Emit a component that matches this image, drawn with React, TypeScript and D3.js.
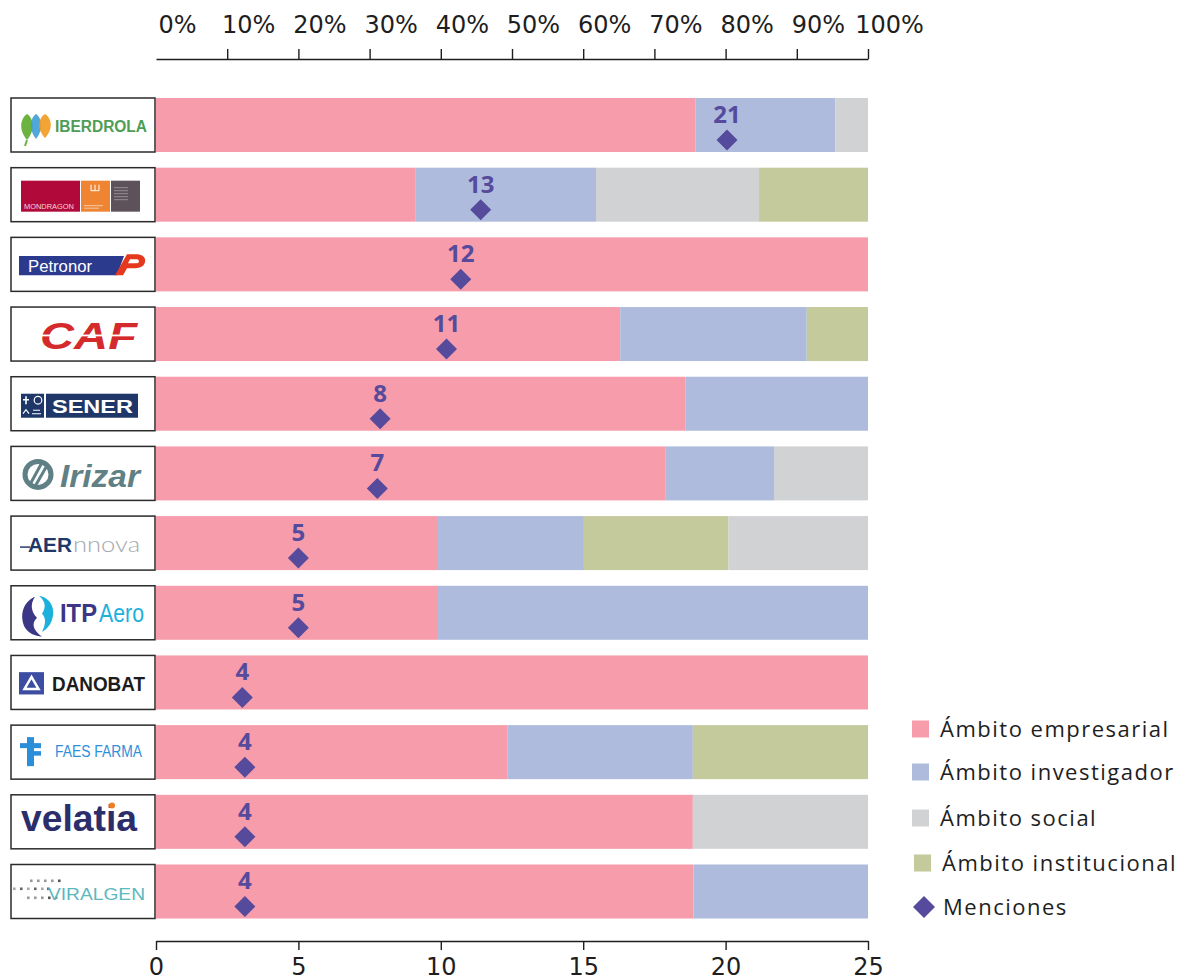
import React, { useEffect, useRef } from "react";
import * as d3 from "d3";

const categories = ["Iberdrola", "Mondragon", "Petronor", "CAF", "Sener", "Irizar", "Aernnova", "ITP Aero", "Danobat", "Faes Farma", "Velatia", "Viralgen"];
const empresarial = [75.8, 36.4, 100, 65.2, 74.4, 71.6, 39.6, 39.6, 100, 49.4, 75.4, 75.5];
const investigador = [19.6, 25.4, 0, 26.2, 25.6, 15.2, 20.5, 60.4, 0, 26.0, 0, 24.5];
const social = [4.6, 22.9, 0, 0, 0, 13.2, 19.6, 0, 0, 0, 24.6, 0];
const institucional = [0, 15.3, 0, 8.6, 0, 0, 20.3, 0, 0, 24.6, 0, 0];
const mentions = [21, 13, 12, 11, 8, 7, 5, 5, 4, 4, 4, 4];
const mentionsPlotted = [20.05, 11.4, 10.7, 10.2, 7.87, 7.77, 5.0, 5.0, 3.03, 3.12, 3.12, 3.12];
const percentTicks = [0, 10, 20, 30, 40, 50, 60, 70, 80, 90, 100];
const mentionTicks = [0, 5, 10, 15, 20, 25];
const seriesNames = ["Ámbito empresarial", "Ámbito investigador", "Ámbito social", "Ámbito institucional"];
const seriesColors = ["#f69cab", "#aebbdd", "#d1d2d4", "#c4ca9b"];
const institucionalBeforeSocial = ["Aernnova"];

const DIAMOND = "#554a9b";
const TEXT = "#1e1e1e";

function leaf(cx: number, by: number, w: number, h: number) {
  return `M${cx},${by} C${cx - w},${by - h * 0.4} ${cx - w * 0.7},${by - h * 0.85} ${cx},${by - h} C${cx + w * 0.7},${by - h * 0.85} ${cx + w},${by - h * 0.4} ${cx},${by} Z`;
}

function Logo({ name }: { name: string }) {
  const fit = { lengthAdjust: "spacingAndGlyphs" as any };
  switch (name) {
    case "Iberdrola":
      return (
        <g>
          <path d={leaf(16, 42, 9, 26)} fill="#6db33f" />
          <path d={leaf(25, 41, 8, 25)} fill="#3d9fd6" opacity={0.9} />
          <path d={leaf(34, 40, 9, 24)} fill="#f39a1e" opacity={0.9} />
          <line x1={16} y1={42} x2={14} y2={48} stroke="#6db33f" strokeWidth={2} />
          <text x={44} y={34} fontSize={16} fontWeight={700} fill="#4e9d55" fontFamily="Liberation Sans" textLength={92} {...fit}>IBERDROLA</text>
        </g>
      );
    case "Mondragon":
      return (
        <g>
          <rect x={10} y={13} width={59} height={31} fill="#b10a3a" />
          <rect x={70} y={13} width={29} height={31} fill="#ef8532" />
          <rect x={100} y={13} width={29} height={31} fill="#5e525a" />
          <text x={13} y={41} fontSize={6.5} fill="#f3d6dc" fontFamily="Liberation Sans" textLength={50} {...fit}>MONDRAGON</text>
          <path d="M80,17 v6 h8 v-6 M84,17 v6" stroke="#fff" strokeWidth={1} fill="none" />
          <line x1={73} y1={38} x2={92} y2={38} stroke="#fff" strokeWidth={0.8} opacity={0.7} />
          <line x1={73} y1={40.5} x2={88} y2={40.5} stroke="#fff" strokeWidth={0.8} opacity={0.7} />
          {[20, 23, 26, 29, 32].map((yy) => (
            <line key={yy} x1={103} y1={yy} x2={117} y2={yy} stroke="#fff" strokeWidth={0.7} opacity={0.5} />
          ))}
        </g>
      );
    case "Petronor":
      return (
        <g>
          <path d="M8,18.7 L113,18.7 L106,38 L8,38 Z" fill="#2c3a8e" />
          <text x={17} y={35} fontSize={17} fill="#fff" fontFamily="Liberation Sans" textLength={64} {...fit}>Petronor</text>
          <path d="M104,38 L112,38 L116,31 L124,31 C131,31 135,27 134,22 C133,18.5 130,17 125,17 L116,17 Z" fill="#e5381d" />
          <path d="M119,22 L126,22 C128.5,22 128.5,26 126,26 L117,26 Z" fill="#fff" />
        </g>
      );
    case "CAF":
      return (
        <g>
          <text x={29} y={42} fontSize={36} fontWeight={900} fontStyle="italic" fill="#d52a2c" fontFamily="Liberation Sans" textLength={97} {...fit}>CAF</text>
          <rect x={29} y={27.5} width={99} height={1.8} fill="#fff" />
        </g>
      );
    case "Sener":
      return (
        <g>
          <rect x={10} y={17} width={23} height={24} fill="#1e3768" />
          <rect x={35} y={17} width={92} height={24} fill="#1e3768" />
          <path d="M15,19.5 v8 M12,23 h6" stroke="#fff" strokeWidth={1.6} />
          <circle cx={27} cy={23.5} r={3.8} fill="none" stroke="#fff" strokeWidth={1.2} />
          <path d="M12,37 l3,-4 l3,4 M21,37 h9 M22,33.5 h7" stroke="#fff" strokeWidth={1.2} fill="none" />
          <text x={41} y={36} fontSize={19} fontWeight={700} fill="#fff" fontFamily="Liberation Sans" textLength={81} {...fit}>SENER</text>
        </g>
      );
    case "Irizar":
      return (
        <g>
          <circle cx={27} cy={28} r={13} fill="none" stroke="#5f8085" strokeWidth={5} />
          <line x1={19} y1={38} x2={31} y2={16} stroke="#5f8085" strokeWidth={3} />
          <line x1={24} y1={40} x2={36} y2={19} stroke="#5f8085" strokeWidth={3} />
          <text x={49} y={41} fontSize={31} fontWeight={700} fontStyle="italic" fill="#5f8085" fontFamily="Liberation Sans" textLength={80} {...fit}>Irizar</text>
        </g>
      );
    case "Aernnova":
      return (
        <g>
          <line x1={9} y1={31} x2={19} y2={31} stroke="#2a3b6b" strokeWidth={1.5} />
          <text x={17} y={36} fontSize={21} fontWeight={700} fill="#213769" fontFamily="Liberation Sans" textLength={44} {...fit}>AER</text>
          <text x={62} y={36} fontSize={22} fontWeight={300} fill="#a5a8ac" fontFamily="Lato" textLength={67} {...fit}>nnova</text>
        </g>
      );
    case "ITP Aero":
      return (
        <g>
          <path d="M24,11 C12,16 8,30 14,42 C18,48 24,50 31,51 C22,44 20,38 26,32 C20,26 19,18 24,11 Z" fill="#3b3685" />
          <path d="M28,10 C40,12 45,24 41,34 C39,40 35,44 31,46 C35,38 35,32 31,28 C35,22 35,16 28,10 Z" fill="#1eb0dc" />
          <text x={49} y={36} fontSize={25} fontWeight={700} fill="#3b3685" fontFamily="Liberation Sans" textLength={37} {...fit}>ITP</text>
          <text x={88} y={36} fontSize={25} fill="#1eb0dc" fontFamily="Liberation Sans" textLength={45} {...fit}>Aero</text>
        </g>
      );
    case "Danobat":
      return (
        <g>
          <rect x={8} y={16.7} width={25} height={22.3} fill="#3c4ea3" />
          <path d="M20.5,21.5 L27.5,33.5 L13.5,33.5 Z" stroke="#fff" strokeWidth={2.5} fill="none" />
          <text x={41} y={35.7} fontSize={21} fontWeight={900} fill="#1c1c1c" fontFamily="Liberation Sans" textLength={93} {...fit}>DANOBAT</text>
        </g>
      );
    case "Faes Farma":
      return (
        <g>
          <rect x={16} y={12} width={7} height={29} fill="#2a8ed8" />
          <rect x={9} y={18} width={21} height={5} fill="#2a8ed8" />
          <rect x={16} y={26} width={14} height={4.5} fill="#2a8ed8" />
          <text x={44} y={32.3} fontSize={16} fill="#2f8fd9" fontFamily="Liberation Sans" textLength={87} {...fit}>FAES FARMA</text>
        </g>
      );
    case "Velatia":
      return (
        <g>
          <text x={10} y={36.5} fontSize={37} fontWeight={700} fill="#2a2e6b" fontFamily="Liberation Sans" textLength={116} {...fit}>velatia</text>
          <circle cx={101} cy={10.7} r={3} fill="#ef7d22" />
        </g>
      );
    case "Viralgen":
      return (
        <g>
          {[19, 26, 33, 40, 47].map((xx, i) => (
            <rect key={"a" + i} x={xx} y={15} width={2.6} height={2.6} fill={i === 4 ? "#555" : "#999"} />
          ))}
          {[2, 9, 16, 23, 30, 36].map((xx, i) => (
            <rect key={"b" + i} x={xx} y={23} width={2.6} height={2.6} fill={i % 2 ? "#666" : "#aaa"} />
          ))}
          {[16, 23, 30, 37, 44].map((xx, i) => (
            <rect key={"c" + i} x={xx} y={32} width={2.6} height={2.6} fill={i === 3 ? "#555" : "#999"} />
          ))}
          <text x={37} y={35.5} fontSize={16} fill="#5ab8be" fontFamily="Liberation Sans" textLength={97} {...fit}>VIRALGEN</text>
        </g>
      );
    default:
      return null;
  }
}

export default function App() {
  const width = 1194;
  const height = 980;
  const x = d3.scaleLinear().domain([0, 100]).range([156, 868]);
  const xm = d3.scaleLinear().domain([0, 25]).range([156, 868]);
  const y = d3.scaleBand<string>().domain(categories).range([98, 918.5]).paddingInner(0.225).paddingOuter(0);
  const bw = y.bandwidth();

  const topRef = useRef<SVGGElement>(null);
  const botRef = useRef<SVGGElement>(null);

  useEffect(() => {
    if (topRef.current) {
      const g = d3.select(topRef.current);
      g.selectAll("*").remove();
      g.call(
        d3.axisTop(x).tickValues(percentTicks).tickFormat((d) => `${d}%`).tickSize(10).tickSizeOuter(0).tickPadding(16) as any
      );
      g.select(".domain").attr("stroke", TEXT).attr("stroke-width", 1.6);
      g.selectAll(".tick line").attr("stroke", TEXT).attr("stroke-width", 1.4);
      g.selectAll(".tick").filter((d: any) => d === 0).select("line").remove();
      g.selectAll(".tick text")
        .attr("dx", 21)
        .attr("fill", TEXT)
        .style("font-family", "DejaVu Sans")
        .style("font-size", "24px");
    }
    if (botRef.current) {
      const g = d3.select(botRef.current);
      g.selectAll("*").remove();
      g.call(d3.axisBottom(xm).tickValues(mentionTicks).tickSize(9).tickSizeOuter(0).tickPadding(8) as any);
      g.select(".domain").attr("stroke", TEXT).attr("stroke-width", 1.6);
      g.selectAll(".tick line").attr("stroke", TEXT).attr("stroke-width", 1.4);
      g.selectAll(".tick text")
        .attr("fill", TEXT)
        .style("font-family", "DejaVu Sans")
        .style("font-size", "24px");
    }
  }, []);

  const series = [empresarial, investigador, social, institucional];

  const rows = categories.map((c, i) => {
    const order = institucionalBeforeSocial.includes(c) ? [0, 1, 3, 2] : [0, 1, 2, 3];
    let acc = 0;
    const segs = order.map((k) => {
      const v = series[k][i];
      const s = { k, x0: acc, x1: acc + v };
      acc += v;
      return s;
    }).filter((s) => s.x1 > s.x0);
    return { c, i, segs };
  });

  const legendY = [729, 772, 818, 863];

  return (
    <svg width={width} height={height} style={{ position: "absolute", left: 0, top: 0, background: "#fff" }}>
      <rect width={width} height={height} fill="#fff" />
      <g ref={topRef} transform="translate(0,59)" />
      <g ref={botRef} transform="translate(0,941)" />
      {rows.map((r) => {
        const yy = y(r.c)!;
        return (
          <g key={r.c}>
            {r.segs.map((s) => (
              <rect key={s.k} x={x(s.x0)} y={yy} width={x(s.x1) - x(s.x0)} height={bw} fill={seriesColors[s.k]} />
            ))}
            <rect x={11} y={yy} width={144} height={bw} fill="#fff" stroke="#2b2b2b" strokeWidth={1.5} />
            <g transform={`translate(11,${yy})`}>
              <Logo name={r.c} />
            </g>
          </g>
        );
      })}
      {categories.map((c, i) => {
        const cx = xm(mentionsPlotted[i]);
        const cy = y(c)! + 42;
        const d = 10.5;
        return (
          <g key={"m" + c}>
            <path d={`M${cx},${cy - d} L${cx + d},${cy} L${cx},${cy + d} L${cx - d},${cy} Z`} fill={DIAMOND} />
            <text x={cx} y={y(c)! + 25} textAnchor="middle" fontSize={24} fontWeight={700} fill={DIAMOND} fontFamily="Open Sans">
              {mentions[i]}
            </text>
          </g>
        );
      })}
      <g fontFamily="Open Sans" fontSize={22} fill={TEXT} letterSpacing={1.5}>
        {seriesNames.map((n, i) => (
          <g key={n}>
            <rect x={912 + (i === 3 ? 2 : 0)} y={legendY[i] - 8.5} width={17} height={17} fill={seriesColors[i]} />
            <text x={940 + (i === 3 ? 2 : 0)} y={legendY[i] + 8}>{n}</text>
          </g>
        ))}
        <path d={`M924,896 L935,907 L924,918 L913,907 Z`} fill={DIAMOND} />
        <text x={943} y={915}>Menciones</text>
      </g>
    </svg>
  );
}
